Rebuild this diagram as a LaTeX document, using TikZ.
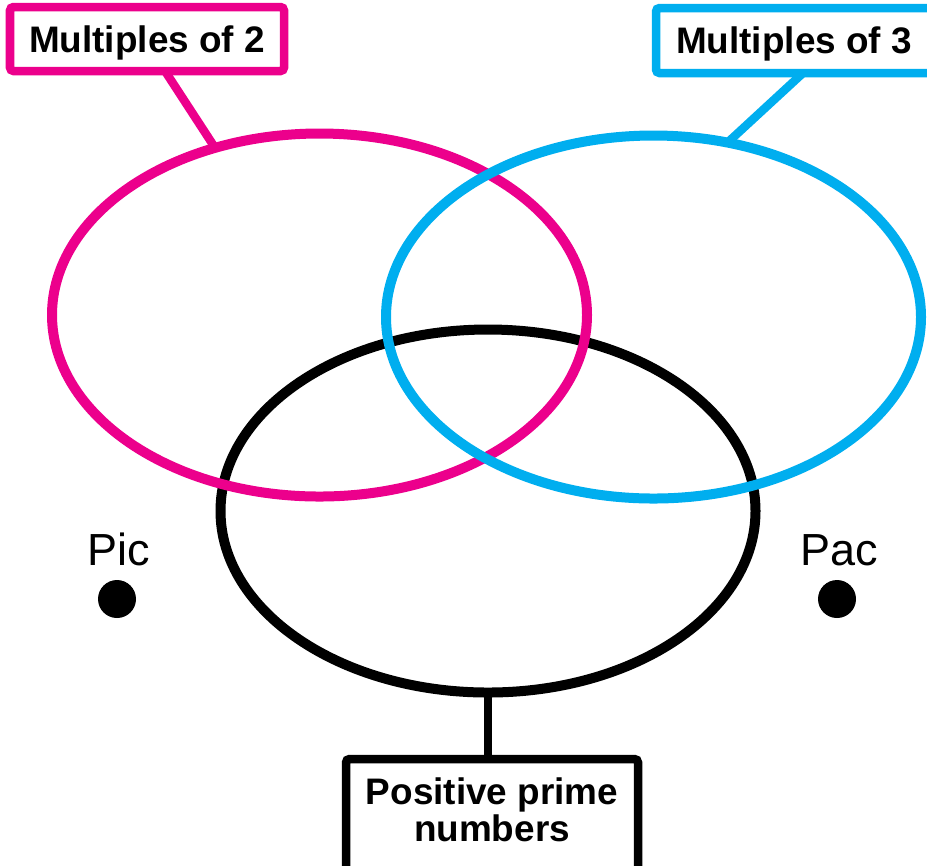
\documentclass[tikz,border=0pt]{standalone}
\usepackage{fontspec}
\setmainfont{Liberation Sans}
\usetikzlibrary{shapes.geometric}

\definecolor{twocol}{RGB}{236,0,140}
\definecolor{threecol}{RGB}{0,174,239}

\begin{document}
\begin{tikzpicture}[
    set/.style={draw, ellipse, line width=0.1cm, inner sep=0, outer sep=0,
        minimum width=5.35cm, minimum height=3.63cm},
    tag/.style={draw, line width=0.085cm, rounded corners=1pt, fill=white,
        inner sep=0, outer sep=0, align=center,
        font=\fontsize{10.5}{10.3}\selectfont\bfseries},
    link/.style={line width=0.085cm},
    dot/.style={circle, fill=black, inner sep=0, minimum size=0.38cm},
    ptlabel/.style={font=\fontsize{12.8}{14}\selectfont, anchor=base}
]
    \useasboundingbox (0,0) rectangle (9.27,-8.65);

    % the three sets
    \node[set] (primes) at (4.88,-5.11) {};
    \node[set, draw=twocol] (twos) at (3.195,-3.15) {};
    \node[set, draw=threecol] (threes) at (6.535,-3.17) {};

    % set labels
    \node[tag, draw=twocol, text depth=0pt, minimum width=2.74cm, minimum height=0.64cm] (twotag) at (1.47,-0.39) {Multiples of 2};
    \draw[link, twocol] ([xshift=0.18cm]twotag.south) -- (twos.122);

    \node[tag, draw=threecol, text depth=0pt, minimum width=2.76cm, minimum height=0.65cm] (threetag) at (7.94,-0.405) {Multiples of 3};
    \draw[link, threecol] ([xshift=0.09cm]threetag.south) -- (threes.67);

    \node[tag, minimum width=2.92cm, minimum height=1.12cm] (primetag) at (4.92,-8.15) {Positive prime\\numbers\strut};
    \draw[link] (primes.south) -- (primes.south |- primetag.north);

    % the two points outside
    \node[ptlabel] (pic) at (1.19,-5.65) {Pic};
    \node[dot] (picdot) at (1.17,-5.99) {};

    \node[ptlabel] (pac) at (8.39,-5.65) {Pac};
    \node[dot] (pacdot) at (8.37,-5.99) {};

\end{tikzpicture}
\end{document}
